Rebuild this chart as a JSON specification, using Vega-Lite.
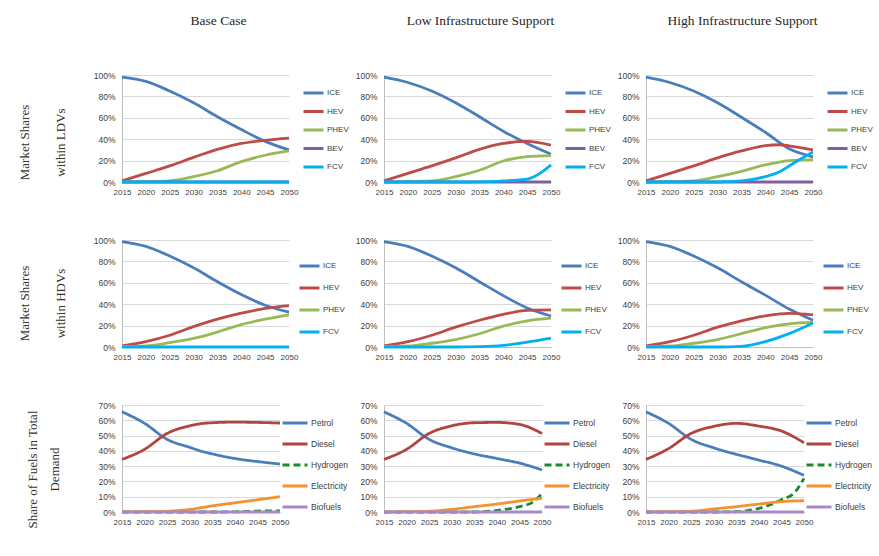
{
  "$schema": "https://vega.github.io/schema/vega-lite/v6.json",
  "padding": {"left": 18, "top": 13, "right": 0, "bottom": 5},
  "background": "white",
  "datasets": {
    "ldv": [
      {"scenario":"Base","year":2015,"type":"ICE","share":0.98},{"scenario":"Base","year":2020,"type":"ICE","share":0.94},{"scenario":"Base","year":2025,"type":"ICE","share":0.85},{"scenario":"Base","year":2030,"type":"ICE","share":0.74},{"scenario":"Base","year":2035,"type":"ICE","share":0.61},{"scenario":"Base","year":2040,"type":"ICE","share":0.49},{"scenario":"Base","year":2045,"type":"ICE","share":0.38},{"scenario":"Base","year":2050,"type":"ICE","share":0.30},
      {"scenario":"Base","year":2015,"type":"HEV","share":0.01},{"scenario":"Base","year":2020,"type":"HEV","share":0.08},{"scenario":"Base","year":2025,"type":"HEV","share":0.15},{"scenario":"Base","year":2030,"type":"HEV","share":0.23},{"scenario":"Base","year":2035,"type":"HEV","share":0.305},{"scenario":"Base","year":2040,"type":"HEV","share":0.36},{"scenario":"Base","year":2045,"type":"HEV","share":0.39},{"scenario":"Base","year":2050,"type":"HEV","share":0.41},
      {"scenario":"Base","year":2015,"type":"PHEV","share":0.0},{"scenario":"Base","year":2020,"type":"PHEV","share":0.003},{"scenario":"Base","year":2025,"type":"PHEV","share":0.01},{"scenario":"Base","year":2030,"type":"PHEV","share":0.05},{"scenario":"Base","year":2035,"type":"PHEV","share":0.105},{"scenario":"Base","year":2040,"type":"PHEV","share":0.19},{"scenario":"Base","year":2045,"type":"PHEV","share":0.25},{"scenario":"Base","year":2050,"type":"PHEV","share":0.29},
      {"scenario":"Base","year":2015,"type":"BEV","share":0},{"scenario":"Base","year":2020,"type":"BEV","share":0},{"scenario":"Base","year":2025,"type":"BEV","share":0},{"scenario":"Base","year":2030,"type":"BEV","share":0},{"scenario":"Base","year":2035,"type":"BEV","share":0},{"scenario":"Base","year":2040,"type":"BEV","share":0},{"scenario":"Base","year":2045,"type":"BEV","share":0},{"scenario":"Base","year":2050,"type":"BEV","share":0},
      {"scenario":"Base","year":2015,"type":"FCV","share":0},{"scenario":"Base","year":2020,"type":"FCV","share":0},{"scenario":"Base","year":2025,"type":"FCV","share":0},{"scenario":"Base","year":2030,"type":"FCV","share":0},{"scenario":"Base","year":2035,"type":"FCV","share":0},{"scenario":"Base","year":2040,"type":"FCV","share":0},{"scenario":"Base","year":2045,"type":"FCV","share":0},{"scenario":"Base","year":2050,"type":"FCV","share":0},

      {"scenario":"Low","year":2015,"type":"ICE","share":0.98},{"scenario":"Low","year":2020,"type":"ICE","share":0.93},{"scenario":"Low","year":2025,"type":"ICE","share":0.85},{"scenario":"Low","year":2030,"type":"ICE","share":0.74},{"scenario":"Low","year":2035,"type":"ICE","share":0.61},{"scenario":"Low","year":2040,"type":"ICE","share":0.475},{"scenario":"Low","year":2045,"type":"ICE","share":0.36},{"scenario":"Low","year":2050,"type":"ICE","share":0.26},
      {"scenario":"Low","year":2015,"type":"HEV","share":0.01},{"scenario":"Low","year":2020,"type":"HEV","share":0.08},{"scenario":"Low","year":2025,"type":"HEV","share":0.15},{"scenario":"Low","year":2030,"type":"HEV","share":0.225},{"scenario":"Low","year":2035,"type":"HEV","share":0.305},{"scenario":"Low","year":2040,"type":"HEV","share":0.36},{"scenario":"Low","year":2045,"type":"HEV","share":0.38},{"scenario":"Low","year":2050,"type":"HEV","share":0.345},
      {"scenario":"Low","year":2015,"type":"PHEV","share":0.0},{"scenario":"Low","year":2020,"type":"PHEV","share":0.003},{"scenario":"Low","year":2025,"type":"PHEV","share":0.01},{"scenario":"Low","year":2030,"type":"PHEV","share":0.05},{"scenario":"Low","year":2035,"type":"PHEV","share":0.11},{"scenario":"Low","year":2040,"type":"PHEV","share":0.196},{"scenario":"Low","year":2045,"type":"PHEV","share":0.237},{"scenario":"Low","year":2050,"type":"PHEV","share":0.246},
      {"scenario":"Low","year":2015,"type":"BEV","share":0},{"scenario":"Low","year":2020,"type":"BEV","share":0},{"scenario":"Low","year":2025,"type":"BEV","share":0},{"scenario":"Low","year":2030,"type":"BEV","share":0},{"scenario":"Low","year":2035,"type":"BEV","share":0},{"scenario":"Low","year":2040,"type":"BEV","share":0},{"scenario":"Low","year":2045,"type":"BEV","share":0},{"scenario":"Low","year":2050,"type":"BEV","share":0},
      {"scenario":"Low","year":2015,"type":"FCV","share":0},{"scenario":"Low","year":2020,"type":"FCV","share":0},{"scenario":"Low","year":2025,"type":"FCV","share":0},{"scenario":"Low","year":2030,"type":"FCV","share":0},{"scenario":"Low","year":2035,"type":"FCV","share":0.001},{"scenario":"Low","year":2040,"type":"FCV","share":0.01},{"scenario":"Low","year":2045,"type":"FCV","share":0.027},{"scenario":"Low","year":2048,"type":"FCV","share":0.09},{"scenario":"Low","year":2050,"type":"FCV","share":0.16},

      {"scenario":"High","year":2015,"type":"ICE","share":0.98},{"scenario":"High","year":2020,"type":"ICE","share":0.93},{"scenario":"High","year":2025,"type":"ICE","share":0.85},{"scenario":"High","year":2030,"type":"ICE","share":0.74},{"scenario":"High","year":2035,"type":"ICE","share":0.605},{"scenario":"High","year":2040,"type":"ICE","share":0.465},{"scenario":"High","year":2045,"type":"ICE","share":0.31},{"scenario":"High","year":2050,"type":"ICE","share":0.235},
      {"scenario":"High","year":2015,"type":"HEV","share":0.01},{"scenario":"High","year":2020,"type":"HEV","share":0.08},{"scenario":"High","year":2025,"type":"HEV","share":0.15},{"scenario":"High","year":2030,"type":"HEV","share":0.225},{"scenario":"High","year":2035,"type":"HEV","share":0.29},{"scenario":"High","year":2040,"type":"HEV","share":0.34},{"scenario":"High","year":2043,"type":"HEV","share":0.348},{"scenario":"High","year":2045,"type":"HEV","share":0.338},{"scenario":"High","year":2050,"type":"HEV","share":0.30},
      {"scenario":"High","year":2015,"type":"PHEV","share":0.0},{"scenario":"High","year":2020,"type":"PHEV","share":0.003},{"scenario":"High","year":2025,"type":"PHEV","share":0.01},{"scenario":"High","year":2030,"type":"PHEV","share":0.05},{"scenario":"High","year":2035,"type":"PHEV","share":0.10},{"scenario":"High","year":2040,"type":"PHEV","share":0.16},{"scenario":"High","year":2045,"type":"PHEV","share":0.20},{"scenario":"High","year":2050,"type":"PHEV","share":0.21},
      {"scenario":"High","year":2015,"type":"BEV","share":0},{"scenario":"High","year":2020,"type":"BEV","share":0},{"scenario":"High","year":2025,"type":"BEV","share":0},{"scenario":"High","year":2030,"type":"BEV","share":0},{"scenario":"High","year":2035,"type":"BEV","share":0},{"scenario":"High","year":2040,"type":"BEV","share":0},{"scenario":"High","year":2045,"type":"BEV","share":0},{"scenario":"High","year":2050,"type":"BEV","share":0},
      {"scenario":"High","year":2015,"type":"FCV","share":0},{"scenario":"High","year":2020,"type":"FCV","share":0},{"scenario":"High","year":2025,"type":"FCV","share":0},{"scenario":"High","year":2030,"type":"FCV","share":0},{"scenario":"High","year":2035,"type":"FCV","share":0.01},{"scenario":"High","year":2040,"type":"FCV","share":0.05},{"scenario":"High","year":2043,"type":"FCV","share":0.095},{"scenario":"High","year":2045,"type":"FCV","share":0.15},{"scenario":"High","year":2050,"type":"FCV","share":0.28}
    ],
    "hdv": [
      {"scenario":"Base","year":2015,"type":"ICE","share":0.985},{"scenario":"Base","year":2020,"type":"ICE","share":0.94},{"scenario":"Base","year":2025,"type":"ICE","share":0.85},{"scenario":"Base","year":2030,"type":"ICE","share":0.74},{"scenario":"Base","year":2035,"type":"ICE","share":0.61},{"scenario":"Base","year":2040,"type":"ICE","share":0.49},{"scenario":"Base","year":2045,"type":"ICE","share":0.39},{"scenario":"Base","year":2050,"type":"ICE","share":0.325},
      {"scenario":"Base","year":2015,"type":"HEV","share":0.01},{"scenario":"Base","year":2020,"type":"HEV","share":0.05},{"scenario":"Base","year":2025,"type":"HEV","share":0.11},{"scenario":"Base","year":2030,"type":"HEV","share":0.19},{"scenario":"Base","year":2035,"type":"HEV","share":0.26},{"scenario":"Base","year":2040,"type":"HEV","share":0.316},{"scenario":"Base","year":2045,"type":"HEV","share":0.36},{"scenario":"Base","year":2050,"type":"HEV","share":0.387},
      {"scenario":"Base","year":2015,"type":"PHEV","share":0.005},{"scenario":"Base","year":2020,"type":"PHEV","share":0.01},{"scenario":"Base","year":2025,"type":"PHEV","share":0.04},{"scenario":"Base","year":2030,"type":"PHEV","share":0.08},{"scenario":"Base","year":2035,"type":"PHEV","share":0.14},{"scenario":"Base","year":2040,"type":"PHEV","share":0.21},{"scenario":"Base","year":2045,"type":"PHEV","share":0.26},{"scenario":"Base","year":2050,"type":"PHEV","share":0.30},
      {"scenario":"Base","year":2015,"type":"FCV","share":0},{"scenario":"Base","year":2020,"type":"FCV","share":0},{"scenario":"Base","year":2025,"type":"FCV","share":0},{"scenario":"Base","year":2030,"type":"FCV","share":0},{"scenario":"Base","year":2035,"type":"FCV","share":0},{"scenario":"Base","year":2040,"type":"FCV","share":0},{"scenario":"Base","year":2045,"type":"FCV","share":0},{"scenario":"Base","year":2050,"type":"FCV","share":0},

      {"scenario":"Low","year":2015,"type":"ICE","share":0.985},{"scenario":"Low","year":2020,"type":"ICE","share":0.94},{"scenario":"Low","year":2025,"type":"ICE","share":0.85},{"scenario":"Low","year":2030,"type":"ICE","share":0.74},{"scenario":"Low","year":2035,"type":"ICE","share":0.61},{"scenario":"Low","year":2040,"type":"ICE","share":0.48},{"scenario":"Low","year":2045,"type":"ICE","share":0.365},{"scenario":"Low","year":2050,"type":"ICE","share":0.29},
      {"scenario":"Low","year":2015,"type":"HEV","share":0.01},{"scenario":"Low","year":2020,"type":"HEV","share":0.05},{"scenario":"Low","year":2025,"type":"HEV","share":0.11},{"scenario":"Low","year":2030,"type":"HEV","share":0.185},{"scenario":"Low","year":2035,"type":"HEV","share":0.25},{"scenario":"Low","year":2040,"type":"HEV","share":0.305},{"scenario":"Low","year":2045,"type":"HEV","share":0.343},{"scenario":"Low","year":2050,"type":"HEV","share":0.347},
      {"scenario":"Low","year":2015,"type":"PHEV","share":0.005},{"scenario":"Low","year":2020,"type":"PHEV","share":0.01},{"scenario":"Low","year":2025,"type":"PHEV","share":0.035},{"scenario":"Low","year":2030,"type":"PHEV","share":0.07},{"scenario":"Low","year":2035,"type":"PHEV","share":0.124},{"scenario":"Low","year":2040,"type":"PHEV","share":0.195},{"scenario":"Low","year":2045,"type":"PHEV","share":0.245},{"scenario":"Low","year":2050,"type":"PHEV","share":0.27},
      {"scenario":"Low","year":2015,"type":"FCV","share":0},{"scenario":"Low","year":2020,"type":"FCV","share":0},{"scenario":"Low","year":2025,"type":"FCV","share":0},{"scenario":"Low","year":2030,"type":"FCV","share":0},{"scenario":"Low","year":2035,"type":"FCV","share":0.003},{"scenario":"Low","year":2040,"type":"FCV","share":0.015},{"scenario":"Low","year":2045,"type":"FCV","share":0.046},{"scenario":"Low","year":2050,"type":"FCV","share":0.084},

      {"scenario":"High","year":2015,"type":"ICE","share":0.985},{"scenario":"High","year":2020,"type":"ICE","share":0.94},{"scenario":"High","year":2025,"type":"ICE","share":0.85},{"scenario":"High","year":2030,"type":"ICE","share":0.74},{"scenario":"High","year":2035,"type":"ICE","share":0.61},{"scenario":"High","year":2040,"type":"ICE","share":0.485},{"scenario":"High","year":2045,"type":"ICE","share":0.355},{"scenario":"High","year":2050,"type":"ICE","share":0.25},
      {"scenario":"High","year":2015,"type":"HEV","share":0.01},{"scenario":"High","year":2020,"type":"HEV","share":0.05},{"scenario":"High","year":2025,"type":"HEV","share":0.11},{"scenario":"High","year":2030,"type":"HEV","share":0.185},{"scenario":"High","year":2035,"type":"HEV","share":0.245},{"scenario":"High","year":2040,"type":"HEV","share":0.29},{"scenario":"High","year":2045,"type":"HEV","share":0.314},{"scenario":"High","year":2050,"type":"HEV","share":0.30},
      {"scenario":"High","year":2015,"type":"PHEV","share":0.005},{"scenario":"High","year":2020,"type":"PHEV","share":0.01},{"scenario":"High","year":2025,"type":"PHEV","share":0.035},{"scenario":"High","year":2030,"type":"PHEV","share":0.07},{"scenario":"High","year":2035,"type":"PHEV","share":0.124},{"scenario":"High","year":2040,"type":"PHEV","share":0.18},{"scenario":"High","year":2045,"type":"PHEV","share":0.217},{"scenario":"High","year":2050,"type":"PHEV","share":0.23},
      {"scenario":"High","year":2015,"type":"FCV","share":0},{"scenario":"High","year":2020,"type":"FCV","share":0},{"scenario":"High","year":2025,"type":"FCV","share":0},{"scenario":"High","year":2030,"type":"FCV","share":0},{"scenario":"High","year":2035,"type":"FCV","share":0.005},{"scenario":"High","year":2040,"type":"FCV","share":0.05},{"scenario":"High","year":2045,"type":"FCV","share":0.125},{"scenario":"High","year":2050,"type":"FCV","share":0.225}
    ],
    "fuel": [
      {"scenario":"Base","year":2015,"type":"Petrol","share":0.656},{"scenario":"Base","year":2020,"type":"Petrol","share":0.58},{"scenario":"Base","year":2025,"type":"Petrol","share":0.475},{"scenario":"Base","year":2030,"type":"Petrol","share":0.423},{"scenario":"Base","year":2033,"type":"Petrol","share":0.394},{"scenario":"Base","year":2035,"type":"Petrol","share":0.38},{"scenario":"Base","year":2040,"type":"Petrol","share":0.35},{"scenario":"Base","year":2045,"type":"Petrol","share":0.33},{"scenario":"Base","year":2050,"type":"Petrol","share":0.314},
      {"scenario":"Base","year":2015,"type":"Diesel","share":0.344},{"scenario":"Base","year":2020,"type":"Diesel","share":0.41},{"scenario":"Base","year":2025,"type":"Diesel","share":0.514},{"scenario":"Base","year":2030,"type":"Diesel","share":0.564},{"scenario":"Base","year":2033,"type":"Diesel","share":0.58},{"scenario":"Base","year":2035,"type":"Diesel","share":0.584},{"scenario":"Base","year":2040,"type":"Diesel","share":0.588},{"scenario":"Base","year":2045,"type":"Diesel","share":0.586},{"scenario":"Base","year":2050,"type":"Diesel","share":0.582},
      {"scenario":"Base","year":2015,"type":"Hydrogen","share":0},{"scenario":"Base","year":2020,"type":"Hydrogen","share":0},{"scenario":"Base","year":2025,"type":"Hydrogen","share":0},{"scenario":"Base","year":2030,"type":"Hydrogen","share":0},{"scenario":"Base","year":2035,"type":"Hydrogen","share":0},{"scenario":"Base","year":2040,"type":"Hydrogen","share":0.001},{"scenario":"Base","year":2045,"type":"Hydrogen","share":0.006},{"scenario":"Base","year":2050,"type":"Hydrogen","share":0.008},
      {"scenario":"Base","year":2015,"type":"Electricity","share":0},{"scenario":"Base","year":2020,"type":"Electricity","share":0.002},{"scenario":"Base","year":2025,"type":"Electricity","share":0.005},{"scenario":"Base","year":2030,"type":"Electricity","share":0.017},{"scenario":"Base","year":2035,"type":"Electricity","share":0.04},{"scenario":"Base","year":2040,"type":"Electricity","share":0.06},{"scenario":"Base","year":2045,"type":"Electricity","share":0.08},{"scenario":"Base","year":2050,"type":"Electricity","share":0.10},
      {"scenario":"Base","year":2015,"type":"Biofuels","share":0},{"scenario":"Base","year":2020,"type":"Biofuels","share":0},{"scenario":"Base","year":2025,"type":"Biofuels","share":0},{"scenario":"Base","year":2030,"type":"Biofuels","share":0},{"scenario":"Base","year":2035,"type":"Biofuels","share":0},{"scenario":"Base","year":2040,"type":"Biofuels","share":0},{"scenario":"Base","year":2045,"type":"Biofuels","share":0},{"scenario":"Base","year":2050,"type":"Biofuels","share":0},

      {"scenario":"Low","year":2015,"type":"Petrol","share":0.655},{"scenario":"Low","year":2020,"type":"Petrol","share":0.58},{"scenario":"Low","year":2025,"type":"Petrol","share":0.475},{"scenario":"Low","year":2030,"type":"Petrol","share":0.42},{"scenario":"Low","year":2035,"type":"Petrol","share":0.38},{"scenario":"Low","year":2040,"type":"Petrol","share":0.35},{"scenario":"Low","year":2045,"type":"Petrol","share":0.32},{"scenario":"Low","year":2050,"type":"Petrol","share":0.275},
      {"scenario":"Low","year":2015,"type":"Diesel","share":0.344},{"scenario":"Low","year":2020,"type":"Diesel","share":0.41},{"scenario":"Low","year":2025,"type":"Diesel","share":0.514},{"scenario":"Low","year":2030,"type":"Diesel","share":0.564},{"scenario":"Low","year":2035,"type":"Diesel","share":0.584},{"scenario":"Low","year":2040,"type":"Diesel","share":0.586},{"scenario":"Low","year":2045,"type":"Diesel","share":0.573},{"scenario":"Low","year":2050,"type":"Diesel","share":0.514},
      {"scenario":"Low","year":2015,"type":"Hydrogen","share":0},{"scenario":"Low","year":2020,"type":"Hydrogen","share":0},{"scenario":"Low","year":2025,"type":"Hydrogen","share":0},{"scenario":"Low","year":2030,"type":"Hydrogen","share":0},{"scenario":"Low","year":2035,"type":"Hydrogen","share":0},{"scenario":"Low","year":2040,"type":"Hydrogen","share":0.01},{"scenario":"Low","year":2045,"type":"Hydrogen","share":0.035},{"scenario":"Low","year":2048,"type":"Hydrogen","share":0.065},{"scenario":"Low","year":2050,"type":"Hydrogen","share":0.12},
      {"scenario":"Low","year":2015,"type":"Electricity","share":0},{"scenario":"Low","year":2020,"type":"Electricity","share":0.002},{"scenario":"Low","year":2025,"type":"Electricity","share":0.005},{"scenario":"Low","year":2030,"type":"Electricity","share":0.017},{"scenario":"Low","year":2035,"type":"Electricity","share":0.035},{"scenario":"Low","year":2040,"type":"Electricity","share":0.052},{"scenario":"Low","year":2045,"type":"Electricity","share":0.072},{"scenario":"Low","year":2050,"type":"Electricity","share":0.09},
      {"scenario":"Low","year":2015,"type":"Biofuels","share":0},{"scenario":"Low","year":2020,"type":"Biofuels","share":0},{"scenario":"Low","year":2025,"type":"Biofuels","share":0},{"scenario":"Low","year":2030,"type":"Biofuels","share":0},{"scenario":"Low","year":2035,"type":"Biofuels","share":0},{"scenario":"Low","year":2040,"type":"Biofuels","share":0},{"scenario":"Low","year":2045,"type":"Biofuels","share":0},{"scenario":"Low","year":2050,"type":"Biofuels","share":0},

      {"scenario":"High","year":2015,"type":"Petrol","share":0.655},{"scenario":"High","year":2020,"type":"Petrol","share":0.58},{"scenario":"High","year":2025,"type":"Petrol","share":0.475},{"scenario":"High","year":2030,"type":"Petrol","share":0.42},{"scenario":"High","year":2035,"type":"Petrol","share":0.377},{"scenario":"High","year":2040,"type":"Petrol","share":0.34},{"scenario":"High","year":2045,"type":"Petrol","share":0.30},{"scenario":"High","year":2050,"type":"Petrol","share":0.24},
      {"scenario":"High","year":2015,"type":"Diesel","share":0.344},{"scenario":"High","year":2020,"type":"Diesel","share":0.415},{"scenario":"High","year":2025,"type":"Diesel","share":0.514},{"scenario":"High","year":2030,"type":"Diesel","share":0.56},{"scenario":"High","year":2035,"type":"Diesel","share":0.58},{"scenario":"High","year":2040,"type":"Diesel","share":0.562},{"scenario":"High","year":2045,"type":"Diesel","share":0.53},{"scenario":"High","year":2050,"type":"Diesel","share":0.453},
      {"scenario":"High","year":2015,"type":"Hydrogen","share":0},{"scenario":"High","year":2020,"type":"Hydrogen","share":0},{"scenario":"High","year":2025,"type":"Hydrogen","share":0},{"scenario":"High","year":2030,"type":"Hydrogen","share":0},{"scenario":"High","year":2035,"type":"Hydrogen","share":0.002},{"scenario":"High","year":2040,"type":"Hydrogen","share":0.024},{"scenario":"High","year":2045,"type":"Hydrogen","share":0.08},{"scenario":"High","year":2048,"type":"Hydrogen","share":0.13},{"scenario":"High","year":2050,"type":"Hydrogen","share":0.22},
      {"scenario":"High","year":2015,"type":"Electricity","share":0},{"scenario":"High","year":2020,"type":"Electricity","share":0.002},{"scenario":"High","year":2025,"type":"Electricity","share":0.005},{"scenario":"High","year":2030,"type":"Electricity","share":0.02},{"scenario":"High","year":2035,"type":"Electricity","share":0.035},{"scenario":"High","year":2040,"type":"Electricity","share":0.052},{"scenario":"High","year":2045,"type":"Electricity","share":0.068},{"scenario":"High","year":2050,"type":"Electricity","share":0.074},
      {"scenario":"High","year":2015,"type":"Biofuels","share":0},{"scenario":"High","year":2020,"type":"Biofuels","share":0},{"scenario":"High","year":2025,"type":"Biofuels","share":0},{"scenario":"High","year":2030,"type":"Biofuels","share":0},{"scenario":"High","year":2035,"type":"Biofuels","share":0},{"scenario":"High","year":2040,"type":"Biofuels","share":0},{"scenario":"High","year":2045,"type":"Biofuels","share":0},{"scenario":"High","year":2050,"type":"Biofuels","share":0}
    ]
  },
  "columns": 3,
  "spacing": {"row": 58, "column": 95},
  "bounds": "flush",
  "align": "all",
  "resolve": {
    "scale": {"color": "independent", "strokeDash": "independent", "x": "independent", "y": "independent"},
    "legend": {"color": "independent", "strokeDash": "independent"}
  },
  "concat": [
    {
      "width": 167, "height": 107,
      "title": {"text": "Base Case"},
      "data": {"name": "ldv"},
      "transform": [{"filter": "datum.scenario === 'Base'"}],
      "mark": {"type": "line", "strokeWidth": 2.8, "interpolate": "monotone"},
      "encoding": {
        "x": {"field": "year", "type": "quantitative", "scale": {"domain": [2015, 2050], "nice": false, "zero": false}, "axis": {"values": [2015,2020,2025,2030,2035,2040,2045,2050], "format": "d", "title": null, "grid": false}},
        "y": {"field": "share", "type": "quantitative", "scale": {"domain": [0, 1]}, "axis": {"values": [0,0.2,0.4,0.6,0.8,1], "format": ".0%", "title": ["Market Shares", "within LDVs"], "titleLineHeight": 36, "titleX": -98, "titleY": 67}},
        "color": {"field": "type", "type": "nominal", "scale": {"domain": ["ICE","HEV","PHEV","BEV","FCV"], "range": ["#4A7EBB","#BE4B48","#98B954","#7D60A0","#00B0F0"]}, "legend": {"offset": -3, "padding": 10, "symbolSize": 400, "clipHeight": 16, "rowPadding": 2.5, "labelFontSize": 8}}
      }
    },
    {
      "width": 167, "height": 107,
      "title": {"text": "Low Infrastructure Support"},
      "data": {"name": "ldv"},
      "transform": [{"filter": "datum.scenario === 'Low'"}],
      "mark": {"type": "line", "strokeWidth": 2.8, "interpolate": "monotone"},
      "encoding": {
        "x": {"field": "year", "type": "quantitative", "scale": {"domain": [2015, 2050], "nice": false, "zero": false}, "axis": {"values": [2015,2020,2025,2030,2035,2040,2045,2050], "format": "d", "title": null, "grid": false}},
        "y": {"field": "share", "type": "quantitative", "scale": {"domain": [0, 1]}, "axis": {"values": [0,0.2,0.4,0.6,0.8,1], "format": ".0%", "title": null}},
        "color": {"field": "type", "type": "nominal", "scale": {"domain": ["ICE","HEV","PHEV","BEV","FCV"], "range": ["#4A7EBB","#BE4B48","#98B954","#7D60A0","#00B0F0"]}, "legend": {"offset": -3, "padding": 10, "symbolSize": 400, "clipHeight": 16, "rowPadding": 2.5, "labelFontSize": 8}}
      }
    },
    {
      "width": 167, "height": 107,
      "title": {"text": "High Infrastructure Support"},
      "data": {"name": "ldv"},
      "transform": [{"filter": "datum.scenario === 'High'"}],
      "mark": {"type": "line", "strokeWidth": 2.8, "interpolate": "monotone"},
      "encoding": {
        "x": {"field": "year", "type": "quantitative", "scale": {"domain": [2015, 2050], "nice": false, "zero": false}, "axis": {"values": [2015,2020,2025,2030,2035,2040,2045,2050], "format": "d", "title": null, "grid": false}},
        "y": {"field": "share", "type": "quantitative", "scale": {"domain": [0, 1]}, "axis": {"values": [0,0.2,0.4,0.6,0.8,1], "format": ".0%", "title": null}},
        "color": {"field": "type", "type": "nominal", "scale": {"domain": ["ICE","HEV","PHEV","BEV","FCV"], "range": ["#4A7EBB","#BE4B48","#98B954","#7D60A0","#00B0F0"]}, "legend": {"offset": -3, "padding": 10, "symbolSize": 400, "clipHeight": 16, "rowPadding": 2.5, "labelFontSize": 8}}
      }
    },
    {
      "width": 167, "height": 107,
      "data": {"name": "hdv"},
      "transform": [{"filter": "datum.scenario === 'Base'"}],
      "mark": {"type": "line", "strokeWidth": 2.8, "interpolate": "monotone"},
      "encoding": {
        "x": {"field": "year", "type": "quantitative", "scale": {"domain": [2015, 2050], "nice": false, "zero": false}, "axis": {"values": [2015,2020,2025,2030,2035,2040,2045,2050], "format": "d", "title": null, "grid": false}},
        "y": {"field": "share", "type": "quantitative", "scale": {"domain": [0, 1]}, "axis": {"values": [0,0.2,0.4,0.6,0.8,1], "format": ".0%", "title": ["Market Shares", "within HDVs"], "titleLineHeight": 36, "titleX": -98, "titleY": 63}},
        "color": {"field": "type", "type": "nominal", "scale": {"domain": ["ICE","HEV","PHEV","FCV"], "range": ["#4A7EBB","#BE4B48","#98B954","#00B0F0"]}, "legend": {"offset": -15, "padding": 18, "symbolSize": 400, "clipHeight": 16, "rowPadding": 6, "labelFontSize": 8}}
      }
    },
    {
      "width": 167, "height": 107,
      "data": {"name": "hdv"},
      "transform": [{"filter": "datum.scenario === 'Low'"}],
      "mark": {"type": "line", "strokeWidth": 2.8, "interpolate": "monotone"},
      "encoding": {
        "x": {"field": "year", "type": "quantitative", "scale": {"domain": [2015, 2050], "nice": false, "zero": false}, "axis": {"values": [2015,2020,2025,2030,2035,2040,2045,2050], "format": "d", "title": null, "grid": false}},
        "y": {"field": "share", "type": "quantitative", "scale": {"domain": [0, 1]}, "axis": {"values": [0,0.2,0.4,0.6,0.8,1], "format": ".0%", "title": null}},
        "color": {"field": "type", "type": "nominal", "scale": {"domain": ["ICE","HEV","PHEV","FCV"], "range": ["#4A7EBB","#BE4B48","#98B954","#00B0F0"]}, "legend": {"offset": -15, "padding": 18, "symbolSize": 400, "clipHeight": 16, "rowPadding": 6, "labelFontSize": 8}}
      }
    },
    {
      "width": 167, "height": 107,
      "data": {"name": "hdv"},
      "transform": [{"filter": "datum.scenario === 'High'"}],
      "mark": {"type": "line", "strokeWidth": 2.8, "interpolate": "monotone"},
      "encoding": {
        "x": {"field": "year", "type": "quantitative", "scale": {"domain": [2015, 2050], "nice": false, "zero": false}, "axis": {"values": [2015,2020,2025,2030,2035,2040,2045,2050], "format": "d", "title": null, "grid": false}},
        "y": {"field": "share", "type": "quantitative", "scale": {"domain": [0, 1]}, "axis": {"values": [0,0.2,0.4,0.6,0.8,1], "format": ".0%", "title": null}},
        "color": {"field": "type", "type": "nominal", "scale": {"domain": ["ICE","HEV","PHEV","FCV"], "range": ["#4A7EBB","#BE4B48","#98B954","#00B0F0"]}, "legend": {"offset": -15, "padding": 18, "symbolSize": 400, "clipHeight": 16, "rowPadding": 6, "labelFontSize": 8}}
      }
    },
    {
      "width": 158, "height": 107,
      "data": {"name": "fuel"},
      "transform": [{"filter": "datum.scenario === 'Base'"}],
      "mark": {"type": "line", "strokeWidth": 2.8, "interpolate": "monotone"},
      "encoding": {
        "x": {"field": "year", "type": "quantitative", "scale": {"domain": [2015, 2050], "nice": false, "zero": false}, "axis": {"values": [2015,2020,2025,2030,2035,2040,2045,2050], "format": "d", "title": null, "grid": false}},
        "y": {"field": "share", "type": "quantitative", "scale": {"domain": [0, 0.7]}, "axis": {"values": [0,0.1,0.2,0.3,0.4,0.5,0.6,0.7], "format": ".0%", "title": ["Share of Fuels in Total", "Demand"], "titleLineHeight": 22, "titleX": -90, "titleY": 64}},
        "color": {"field": "type", "type": "nominal", "scale": {"domain": ["Petrol","Diesel","Hydrogen","Electricity","Biofuels"], "range": ["#4A7EBB","#B0443F","#1A8A2A","#F7902E","#A788C9"]}, "legend": {"offset": -14, "padding": 9, "symbolSize": 625, "clipHeight": 18, "rowPadding": 3, "labelFontSize": 8.5}},
        "strokeDash": {"field": "type", "type": "nominal", "scale": {"domain": ["Petrol","Diesel","Hydrogen","Electricity","Biofuels"], "range": [[1,0],[1,0],[7,4],[1,0],[1,0]]}, "legend": {"offset": -14, "padding": 9, "symbolSize": 625, "clipHeight": 18, "rowPadding": 3, "labelFontSize": 8.5}}
      }
    },
    {
      "width": 158, "height": 107,
      "data": {"name": "fuel"},
      "transform": [{"filter": "datum.scenario === 'Low'"}],
      "mark": {"type": "line", "strokeWidth": 2.8, "interpolate": "monotone"},
      "encoding": {
        "x": {"field": "year", "type": "quantitative", "scale": {"domain": [2015, 2050], "nice": false, "zero": false}, "axis": {"values": [2015,2020,2025,2030,2035,2040,2045,2050], "format": "d", "title": null, "grid": false}},
        "y": {"field": "share", "type": "quantitative", "scale": {"domain": [0, 0.7]}, "axis": {"values": [0,0.1,0.2,0.3,0.4,0.5,0.6,0.7], "format": ".0%", "title": null}},
        "color": {"field": "type", "type": "nominal", "scale": {"domain": ["Petrol","Diesel","Hydrogen","Electricity","Biofuels"], "range": ["#4A7EBB","#B0443F","#1A8A2A","#F7902E","#A788C9"]}, "legend": {"offset": -14, "padding": 9, "symbolSize": 625, "clipHeight": 18, "rowPadding": 3, "labelFontSize": 8.5}},
        "strokeDash": {"field": "type", "type": "nominal", "scale": {"domain": ["Petrol","Diesel","Hydrogen","Electricity","Biofuels"], "range": [[1,0],[1,0],[7,4],[1,0],[1,0]]}, "legend": {"offset": -14, "padding": 9, "symbolSize": 625, "clipHeight": 18, "rowPadding": 3, "labelFontSize": 8.5}}
      }
    },
    {
      "width": 158, "height": 107,
      "data": {"name": "fuel"},
      "transform": [{"filter": "datum.scenario === 'High'"}],
      "mark": {"type": "line", "strokeWidth": 2.8, "interpolate": "monotone"},
      "encoding": {
        "x": {"field": "year", "type": "quantitative", "scale": {"domain": [2015, 2050], "nice": false, "zero": false}, "axis": {"values": [2015,2020,2025,2030,2035,2040,2045,2050], "format": "d", "title": null, "grid": false}},
        "y": {"field": "share", "type": "quantitative", "scale": {"domain": [0, 0.7]}, "axis": {"values": [0,0.1,0.2,0.3,0.4,0.5,0.6,0.7], "format": ".0%", "title": null}},
        "color": {"field": "type", "type": "nominal", "scale": {"domain": ["Petrol","Diesel","Hydrogen","Electricity","Biofuels"], "range": ["#4A7EBB","#B0443F","#1A8A2A","#F7902E","#A788C9"]}, "legend": {"offset": -14, "padding": 9, "symbolSize": 625, "clipHeight": 18, "rowPadding": 3, "labelFontSize": 8.5}},
        "strokeDash": {"field": "type", "type": "nominal", "scale": {"domain": ["Petrol","Diesel","Hydrogen","Electricity","Biofuels"], "range": [[1,0],[1,0],[7,4],[1,0],[1,0]]}, "legend": {"offset": -14, "padding": 9, "symbolSize": 625, "clipHeight": 18, "rowPadding": 3, "labelFontSize": 8.5}}
      }
    }
  ],
  "config": {
    "view": {"stroke": null},
    "font": "Liberation Sans",
    "title": {"font": "Liberation Serif", "fontSize": 13.5, "fontWeight": "normal", "color": "#262626", "offset": 44, "dx": 13, "anchor": "middle", "frame": "group"},
    "axis": {"labelFont": "Liberation Sans", "labelFontSize": 8.5, "labelColor": "#404040", "ticks": false, "domainColor": "#BFBFBF", "gridColor": "#D9D9D9", "labelPadding": 6, "labelOverlap": false,
             "titleFont": "Liberation Serif", "titleFontSize": 13, "titleFontWeight": "normal", "titleColor": "#333333", "titleAlign": "center", "titleBaseline": "middle", "titleAngle": -90},
    "axisX": {"labelFontSize": 8, "labelFlush": false},
    "axisY": {"domain": true, "labelPadding": 7},
    "legend": {"title": null, "orient": "right", "symbolType": "stroke", "symbolStrokeWidth": 3, "labelColor": "#404040", "labelFont": "Liberation Sans", "labelOffset": 2, "labelLimit": 80}
  }
}
